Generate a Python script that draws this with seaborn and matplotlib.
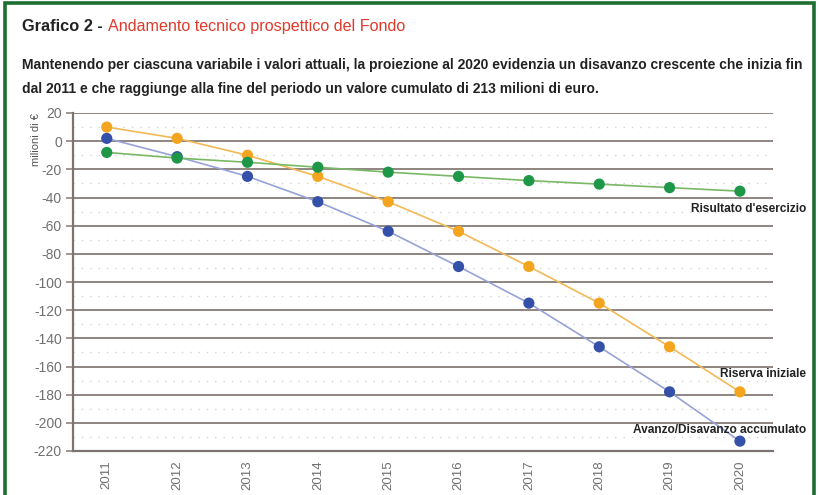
import matplotlib
matplotlib.use("Agg")
import matplotlib.pyplot as plt
import seaborn as sns
import pandas as pd
from matplotlib.patches import Rectangle

years = [2011, 2012, 2013, 2014, 2015, 2016, 2017, 2018, 2019, 2020]
avanzo = [2, -11, -25, -43, -64, -89, -115, -146, -178, -213]
riserva = [10, 2, -10, -25, -43, -64, -89, -115, -146, -178]
risultato = [-8, -12, -15, -18.5, -22, -25, -28, -30.5, -33, -35.5]
series_names = ["Avanzo/Disavanzo accumulato", "Riserva iniziale", "Risultato d'esercizio"]
yticks = list(range(20, -221, -20))

sns.set_theme(style="white")
plt.rcParams['font.family'] = ['Liberation Sans Narrow', 'Liberation Sans', 'DejaVu Sans']

df = pd.DataFrame({
    "anno": years * 3,
    "valore": avanzo + riserva + risultato,
    "serie": [series_names[0]] * 10 + [series_names[1]] * 10 + [series_names[2]] * 10,
})

line_pal = {series_names[0]: "#97a3d6", series_names[1]: "#f2b955", series_names[2]: "#79b865"}
mark_pal = {series_names[0]: "#3450a8", series_names[1]: "#f3a51f", series_names[2]: "#1f9748"}

W, H = 819, 495
fig = plt.figure(figsize=(W / 100, H / 100), dpi=100)
fig.patch.set_facecolor("white")
fig.add_artist(Rectangle((0.006, -0.01), 0.988, 1.004, transform=fig.transFigure,
                         fill=False, edgecolor="#1d6e31", linewidth=2.6))

ax = fig.add_axes([73 / W, 1 - 451 / H, 700 / W, 338 / H])
ax.set_facecolor("white")

for v in yticks:
    ax.axhline(v, color="#8f8580", lw=1.4, zorder=0)
for v in range(10, -220, -20):
    ax.axhline(v, color="#d2d2d2", lw=1.0, ls=(0, (1, 5)), zorder=0)

sns.lineplot(data=df, x="anno", y="valore", hue="serie", palette=line_pal,
             lw=1.2, legend=False, ax=ax, zorder=2)
sns.scatterplot(data=df, x="anno", y="valore", hue="serie", palette=mark_pal,
                s=65, edgecolor="none", legend=False, ax=ax, zorder=3)

ax.set_xlim(2010.52, 2020.47)
ax.set_ylim(-220, 20)
ax.set_yticks(yticks)
ax.set_yticklabels([str(v) for v in yticks], fontsize=10, color="#707070")
ax.set_xticks(years)
ax.set_xticklabels([str(y) for y in years], rotation=90, fontsize=9.5, color="#707070")
ax.tick_params(axis="y", length=5, color="#8f8580", width=1.2, pad=3, left=True)
ax.tick_params(axis="x", length=0, pad=7)
ax.set_xlabel("")
ax.set_ylabel("")
for s in ["top", "right"]:
    ax.spines[s].set_visible(False)
for s in ["left", "bottom"]:
    ax.spines[s].set_color("#7d7470")
    ax.spines[s].set_linewidth(1.6)

fig.text(36 / W, 1 - 113 / H, "milioni di €", rotation=90, fontsize=8, color="#555555",
         ha="center", va="top")

renderer = fig.canvas.get_renderer()


def fit_text(x0, ybase, s, target_w, size, ha="left", va="baseline", **kw):
    t = fig.text(x0 / W, 1 - ybase / H, s, fontsize=size, ha=ha, va=va, **kw)
    w = t.get_window_extent(renderer).width
    t.set_fontsize(size * target_w / w)
    return t


for name, ypx in [(series_names[2], 209), (series_names[1], 374), (series_names[0], 430)]:
    fig.text(806 / W, 1 - ypx / H, name, ha="right", va="center", fontsize=8.6,
             fontweight="bold", color="#222222")

fit_text(22, 31, "Grafico 2 - ", 86, 14, color="#222222", fontweight="semibold")
fit_text(22 + 86, 31, "Andamento tecnico prospettico del Fondo", 300, 14, color="#e03a2c")
fit_text(22, 69, "Mantenendo per ciascuna variabile i valori attuali, la proiezione al 2020 evidenzia un disavanzo crescente che inizia fin",
         781, 10, fontweight="bold", color="#222222")
fit_text(22, 93, "dal 2011 e che raggiunge alla fine del periodo un valore cumulato di 213 milioni di euro.",
         577, 10, fontweight="bold", color="#222222")

fig.savefig("out.png", dpi=100)
